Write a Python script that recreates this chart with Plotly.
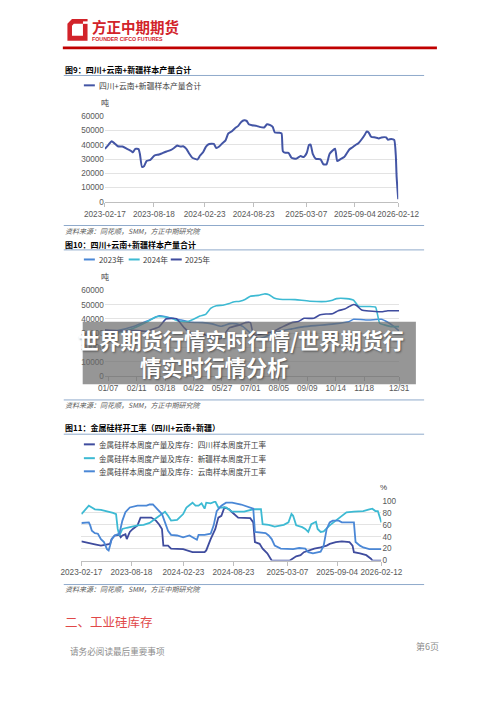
import plotly.graph_objects as go
import pandas as pd

# page is 500x707; the html body adds an 8px margin, so the figure is 492x699
OFF = 8
W, H = 500 - OFF, 707 - OFF
def X(p): return (p - OFF) / W
def Y(p): return 1 - (p - OFF) / H

CJK = "Noto Sans CJK SC"
NUM = "Liberation Sans, Arial, sans-serif"

# ---------------- data: chart 1 (days after 2023-02-17) ----------------
c1_start = "2023-02-17"
c1_days = [0,14,25,36,48,65,82,99,104,113,125,130,138,146,155,169,184,201,214,229,
           246,257,269,280,291,303,314,325,345,354,365,376,388,405,414,425,437,448,459,471,
           484,496,507,518,527,535,547,564,575,592,603,615,624,632,649,657,662,671,683,694,
           711,728,739,751,759,765,773,785,802,813,824,836,856,864,875,890,909,921,932,943,
           955,966,974,981,990,1006,1019,1029,1046,1053,1065,1076,1082,1085,1091]
c1_vals = [37200,40200,42500,41000,39000,38800,37200,35500,34800,37200,37000,33700,24500,25200,28600,29500,32500,33200,34200,35300,
           36500,37800,39500,38800,39000,37200,33700,30900,29800,32500,34800,38800,40600,40600,37800,38800,41100,42900,48000,49400,
           51700,53300,56100,57200,56800,54500,53800,53300,52600,52200,54500,53800,52600,48700,48500,48000,35500,34400,34400,30900,
           30200,32100,31400,34400,39900,40200,33700,30200,29800,26300,26300,33700,37200,28600,29800,31400,36700,38300,39900,41100,
           43900,46900,49400,48700,45700,45200,44500,45200,45200,43600,44100,43400,32500,17500,1800]
date_ticks = ["2023-02-17","2023-08-18","2024-02-23","2024-08-23","2025-03-07","2025-09-04","2026-02-12"]

# ---------------- data: chart 2 (seasonal, MM-DD) ----------------
c2_d2023 = ["01-03","01-20","02-07","02-24","03-11","03-19","03-26","04-07","04-18","05-03",
            "05-15","05-26","06-06","06-14","06-22","07-01","07-11","07-24","08-03","08-21",
            "09-05","09-24","10-12","10-30","11-05","11-24","12-09","12-17","12-24","12-31"]
c2_v2023 = [31500,32000,34600,38500,42200,41500,40400,39200,37600,37400,
            36500,34800,36700,36500,34600,30000,26000,28600,31000,33000,
            34600,35500,36500,38000,39700,39200,39700,37600,35000,31600]
c2_d2024 = ["01-03","01-20","02-07","02-24","03-07","03-15","03-26","04-03","04-14","04-22",
            "04-30","05-07","05-13","05-20","05-28","06-05","06-10","06-18","06-25","07-01",
            "07-11","07-18","07-24","07-30","08-06","08-25","09-02","09-13","10-02","10-10",
            "10-15","10-27","11-05","11-11","11-24","12-02","12-07","12-13","12-21","12-31"]
c2_v2024 = [31000,30500,33500,38000,41500,41500,40400,38500,38000,39700,
            42000,43200,47300,49200,49600,50800,51900,52400,53800,55900,
            56500,57500,57000,54700,53800,53500,53100,52400,52200,53100,
            54200,54200,53100,48900,48700,48200,36900,35800,34600,34600]
c2_d2025 = ["01-03","01-20","02-07","02-24","03-11","03-19","03-26","04-01","04-11","04-18",
            "05-03","05-15","05-26","06-05","06-18","06-25","07-01","07-05","07-18","07-30",
            "08-10","08-21","08-29","09-05","09-17","09-24","10-02","10-10","10-17","10-25",
            "10-30","11-05","11-09","11-15","11-24","12-09","12-17","12-31"]
c2_v2025 = [32300,31500,32000,31400,34600,39900,40400,40200,33500,30200,
            29800,26300,26300,33700,35800,37400,37400,28600,29800,31400,
            34600,37400,38100,40400,40400,42700,43400,43600,45700,46900,
            48500,50100,49200,46200,45500,45000,45700,45700]
c2_ticks = ["01-07","02-11","03-18","04-22","05-27","07-01","08-05","09-09","10-14","11-18","12-31"]
c2_ticktext = ["01/07","02/11","03/18","04/22","05/27","07/01","08/05","09/09","10/14","11/18","12/31"]

# ---------------- data: chart 3 (days after 2023-02-17, %) ----------------
c3_sc_days = [0,16,38,49,71,93,104,110,121,138,143,149,160,165,176,187,204,215,237,254,
              271,282,293,298,315,326,370,404,448,454,470,487,498,509,520,537,548,570,614,625,
              631,648,659,676,692,758,781,797,809,825,847,870,892,903,925,947,975,986,991,1013,
              1036,1053,1058,1091]
c3_sc_vals = [32,30,28,27,25,27,28,36,42,43,39,42,44,36,48,53,59,72,72,72,
              67,61,53,25,25,20,19,14,14,17,36,53,72,75,89,86,81,72,71,64,
              31,28,20,12,0,0,7,9,14,17,20,22,25,28,31,32,31,25,14,12,
              9,3,0,0]
c3_xj_days = [0,16,27,38,49,71,93,115,126,132,138,149,165,182,204,226,248,260,282,304,
              315,326,348,370,382,404,415,426,437,448,454,470,487,498,526,548,592,614,625,653,
              659,681,703,736,753,764,770,781,803,814,825,836,853,859,870,881,903,925,947,964,
              991,1025,1047,1058,1069,1078,1091]
c3_xj_vals = [78,86,92,89,86,85,83,80,78,53,42,53,55,57,59,60,63,67,75,82,
              75,67,68,78,89,97,92,92,96,87,97,96,99,89,89,82,82,85,86,86,
              61,60,57,60,64,78,75,59,56,53,48,61,65,53,48,49,59,67,75,81,
              82,83,86,87,83,83,64]
c3_yn_days = [0,16,27,32,38,49,60,71,82,93,99,104,110,121,138,149,160,176,204,237,
              248,260,271,282,293,304,315,326,348,370,393,404,420,426,448,470,481,492,509,526,
              548,581,614,625,631,670,681,692,703,725,770,792,814,825,842,859,870,881,892,903,
              914,936,947,991,997,1013,1025,1047,1091]
c3_yn_vals = [63,64,64,59,50,46,45,36,31,19,17,25,36,42,45,67,81,89,92,92,
              94,94,89,83,78,64,50,43,42,39,42,39,35,43,43,45,59,83,92,97,
              97,94,89,87,48,46,42,36,25,20,19,21,20,14,12,14,15,25,53,64,
              67,67,64,64,31,25,22,19,19]

# ---------------- colours ----------------
NAVY = "#3F4C9E"
CYAN = "#3DBAD3"
MBLUE = "#4A87D6"
L1 = "#4355A5"
GRID = "#E3E3E3"
AXL = "#BFBFBF"
TXT = "#595959"
SEP = "#8FAACB"
RED = "#D2232A"

base = pd.Timestamp(c1_start)
def to_dates(days):
    return base + pd.to_timedelta(days, unit="D")

fig = go.Figure()
fig.add_trace(go.Scatter(x=to_dates(c1_days), y=c1_vals, mode="lines",
                         line=dict(color=L1, width=2, shape="spline", smoothing=0.5),
                         xaxis="x", yaxis="y"))
for d, v, c in [(c2_d2023, c2_v2023, MBLUE), (c2_d2024, c2_v2024, CYAN), (c2_d2025, c2_v2025, NAVY)]:
    fig.add_trace(go.Scatter(x=["2025-" + s for s in d], y=v, mode="lines",
                             line=dict(color=c, width=1.6, shape="spline", smoothing=0.4),
                             xaxis="x2", yaxis="y2"))
for d, v, c in [(c3_sc_days, c3_sc_vals, NAVY), (c3_xj_days, c3_xj_vals, CYAN), (c3_yn_days, c3_yn_vals, MBLUE)]:
    fig.add_trace(go.Scatter(x=to_dates(d), y=v, mode="lines",
                             line=dict(color=c, width=1.8),
                             xaxis="x3", yaxis="y3"))

tickf = dict(family=NUM, size=8.2, color=TXT)
xcommon = dict(type="date", showgrid=False, showline=True, linecolor=AXL, linewidth=1,
               ticks="outside", ticklen=4, tickcolor=AXL, tickfont=tickf, zeroline=False,
               tickangle=0)
ycommon = dict(showgrid=True, gridcolor=GRID, gridwidth=1, showline=False, zeroline=False,
               tickfont=tickf, ticks="", tickformat="d")

fig.update_layout(
    width=W, height=H, autosize=False,
    margin=dict(l=0, r=0, t=0, b=0),
    paper_bgcolor="white", plot_bgcolor="white",
    showlegend=False,
    xaxis=dict(xcommon, domain=[X(91), X(411.7)], anchor="y",
               range=["2023-02-17", "2026-02-12"], tickvals=date_ticks,
               ticktext=date_ticks),
    yaxis=dict(ycommon, domain=[Y(200.3), Y(113.7)], anchor="x",
               range=[0, 60000], tickvals=[0,10000,20000,30000,40000,50000,60000]),
    xaxis2=dict(xcommon, domain=[X(91), X(412.7)], anchor="y2",
                range=["2025-01-03", "2025-12-31"],
                tickvals=["2025-" + s for s in c2_ticks], ticktext=c2_ticktext),
    yaxis2=dict(ycommon, domain=[Y(376.7), Y(290)], anchor="x2",
                range=[0, 60000], tickvals=[0,10000,20000,30000,40000,50000,60000]),
    xaxis3=dict(xcommon, domain=[X(65.3), X(393.3)], anchor="y3",
                range=["2023-02-17", "2026-02-12"], tickvals=date_ticks,
                ticktext=date_ticks),
    yaxis3=dict(ycommon, domain=[Y(563.7), Y(503.3)], anchor="x3", side="right",
                range=[0, 100], tickvals=[0,20,40,60,80,100]),
)

shapes = []
ann = []

def hline(x0, x1, y, color, width=1):
    shapes.append(dict(type="line", xref="paper", yref="paper",
                       x0=X(x0), x1=X(x1), y0=Y(y), y1=Y(y),
                       line=dict(color=color, width=width)))

def text(x, y, s, size=8, color="#000", family=CJK, xanchor="left", **kw):
    ann.append(dict(x=X(x), y=Y(y), xref="paper", yref="paper", text=s,
                    showarrow=False, xanchor=xanchor, yanchor="middle",
                    font=dict(family=family, size=size, color=color, **kw),
                    borderpad=0))

# header
shapes.append(dict(type="path", xref="paper", yref="paper",
                   path=f"M {X(55)} {Y(15)} L {X(72)} {Y(15)} L {X(72)} {Y(37)} L {X(50)} {Y(37)} L {X(50)} {Y(20)} Z",
                   fillcolor=RED, line=dict(width=0)))
shapes.append(dict(type="path", xref="paper", yref="paper",
                   path=f"M {X(57)} {Y(20)} L {X(67)} {Y(20)} L {X(67)} {Y(32)} L {X(55)} {Y(32)} L {X(55)} {Y(22)} Z",
                   fillcolor="white", line=dict(width=0)))
shapes.append(dict(type="rect", xref="paper", yref="paper",
                   x0=X(67), x1=X(72.5), y0=Y(20), y1=Y(17.5), fillcolor="white", line=dict(width=0)))
text(76, 22.5, "<b>方正中期期货</b>", size=14.5, color=RED)
text(76, 35, "<b>FOUNDER CIFCO FUTURES</b>", size=5.3, color=RED, family=NUM)
hline(45, 454, 44.3, "#C00000", 2.6)

# chart 1 frame
text(46, 66.7, "<b>图9：四川+云南+新疆样本产量合计</b>", size=8)
hline(46, 440, 72.3, SEP)
shapes.append(dict(type="line", xref="paper", yref="paper", x0=X(68), x1=X(80), y0=Y(82.3), y1=Y(82.3),
                   line=dict(color=L1, width=2)))
text(83, 82.3, "四川+云南+新疆样本产量合计", size=7.8, color="#404040")
text(91.5, 99.3, "吨", size=8, color="#404040", xanchor="center")
hline(46, 440, 224.3, SEP)
text(46, 230, "<i>资料来源：同花顺，SMM，方正中期研究院</i>", size=7, color=TXT)

# chart 2 frame
text(46, 243.3, "<b>图10：四川+云南+新疆样本产量合计</b>", size=8)
hline(46, 440, 249, SEP)
for x0, lab, c in [(68, "2023年", MBLUE), (117, "2024年", CYAN), (163, "2025年", NAVY)]:
    shapes.append(dict(type="line", xref="paper", yref="paper", x0=X(x0), x1=X(x0 + 12),
                       y0=Y(258.7), y1=Y(258.7), line=dict(color=c, width=2)))
    text(x0 + 15, 258.7, lab, size=7.8, color="#404040")
text(91.5, 276, "吨", size=8, color="#404040", xanchor="center")
hline(46, 440, 401, SEP)
text(46, 405.7, "<i>资料来源：同花顺，SMM，方正中期研究院</i>", size=7, color=TXT)

# chart 3 frame
text(46, 429.3, "<b>图11：金属硅样开工率（四川+云南+新疆）</b>", size=8)
hline(46, 440, 435.7, SEP)
for yy, lab, c in [(446, "金属硅样本周度产量及库存：四川样本周度开工率", NAVY),
                   (460, "金属硅样本周度产量及库存：新疆样本周度开工率", CYAN),
                   (473.3, "金属硅样本周度产量及库存：云南样本周度开工率", MBLUE)]:
    shapes.append(dict(type="line", xref="paper", yref="paper", x0=X(68), x1=X(80),
                       y0=Y(yy), y1=Y(yy), line=dict(color=c, width=2)))
    text(83, yy, lab, size=7.6, color="#404040")
text(395.5, 489.3, "%", size=8, color="#404040", xanchor="center", family=NUM)
hline(46, 440, 588, SEP)
text(46, 592.7, "<i>资料来源：同花顺，SMM，方正中期研究院</i>", size=7, color=TXT)

# footer
text(46, 625, "二、工业硅库存", size=12.5, color="#E04848")
text(51.5, 655, "请务必阅读最后重要事项", size=8.6, color="#8C8C8C")
text(430, 650.7, "第6页", size=9, color="#8C8C8C")

# overlay banner
shapes.append(dict(type="rect", xref="paper", yref="paper", layer="above",
                   x0=X(66.7), x1=X(431), y0=Y(385), y1=Y(321.7),
                   fillcolor="rgba(105,105,105,0.7)", line=dict(width=0)))
text(240, 340, "<b>世界期货行情实时行情/世界期货行</b>", size=21.2, color="white",
     xanchor="center", shadow="1px 1px 2px rgba(0,0,0,0.45)")
text(210, 367, "<b>情实时行情分析</b>", size=21.2, color="white",
     xanchor="center", shadow="1px 1px 2px rgba(0,0,0,0.45)")

fig.update_layout(shapes=shapes, annotations=ann)
fig.write_html("out.html")
